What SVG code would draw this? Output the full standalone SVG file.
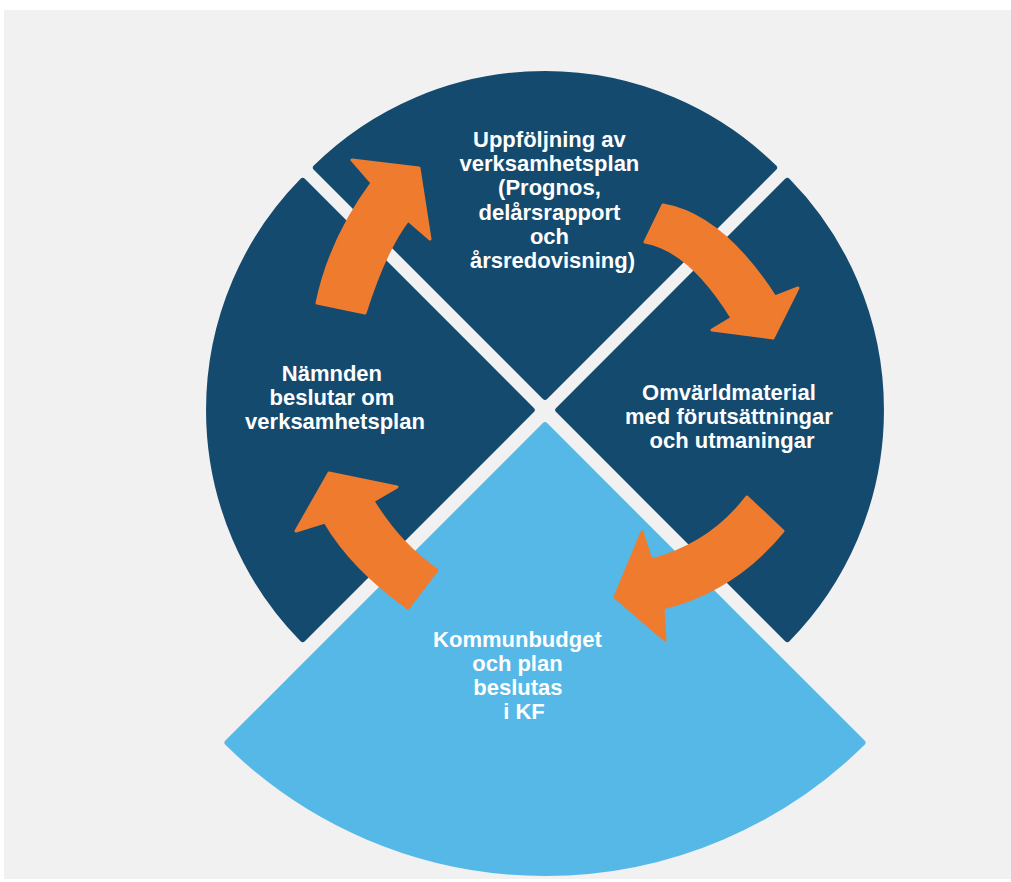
<svg xmlns="http://www.w3.org/2000/svg" width="1011" height="882" viewBox="0 0 1011 882">
  <style>
    .dark { fill: #154a6f; stroke: #154a6f; stroke-width: 6; stroke-linejoin: round; }
    .light { fill: #55b8e7; stroke: #55b8e7; stroke-width: 6; stroke-linejoin: round; }
    .arrow { fill: #ee7b2e; stroke: #ee7b2e; stroke-width: 3; stroke-linejoin: round; }
    .lbl { fill: #ffffff; font-family: "Liberation Sans", Arial, sans-serif; font-weight: bold; font-size: 22px; text-anchor: middle; }
  </style>
  <rect x="0" y="0" width="1011" height="882" fill="#ffffff"/>
  <rect x="4" y="10" width="1007" height="869" fill="#f1f1f1"/>

  <g id="node-top">
    <path class="dark" d="M 545,396.76 L 315.9,167.7 A 327 327 0 0 1 774.1,167.7 Z"/>
    <text class="lbl" x="552.5">
      <tspan x="552.5" y="147">Uppföljning av</tspan>
      <tspan x="552.5" y="171.2">verksamhetsplan</tspan>
      <tspan x="552.5" y="195.4">(Prognos,</tspan>
      <tspan x="552.5" y="219.6">delårsrapport</tspan>
      <tspan x="552.5" y="243.8">och</tspan>
      <tspan x="552.5" y="268">årsredovisning)</tspan>
    </text>
  </g>

  <g id="node-right">
    <path class="dark" d="M 558.24,410 L 787.3,180.9 A 327 327 0 0 1 787.3,639.1 Z"/>
    <text class="lbl">
      <tspan x="732" y="400">Omvärldmaterial</tspan>
      <tspan x="732" y="424">med förutsättningar</tspan>
      <tspan x="732" y="448">och utmaningar</tspan>
    </text>
  </g>

  <g id="node-bottom">
    <path class="light" d="M 545,425.24 L 862.5,742.7 A 452 452 0 0 1 227.5,742.7 Z"/>
    <text class="lbl">
      <tspan x="520.5" y="647">Kommunbudget</tspan>
      <tspan x="520.5" y="671">och plan</tspan>
      <tspan x="521" y="695">beslutas</tspan>
      <tspan x="524" y="719">i KF</tspan>
    </text>
  </g>

  <g id="node-left">
    <path class="dark" d="M 531.76,410 L 302.7,639.1 A 327 327 0 0 1 302.7,180.9 Z"/>
    <text class="lbl">
      <tspan x="335" y="380.5">Nämnden</tspan>
      <tspan x="335" y="404.5">beslutar om</tspan>
      <tspan x="335" y="428.5">verksamhetsplan</tspan>
    </text>
  </g>

  <g id="connectors">
    <path class="arrow" d="M 317,303 Q 330,240 372,183 L 352,160 L 419,168 L 430,239 L 408,220 Q 385,250 365,313 Z"/>
    <path class="arrow" d="M 663,205 Q 722,215 775,297 L 798,288 L 773,338 L 712,330 L 732,318 Q 690,250 645,242 Z"/>
    <path class="arrow" d="M 747,497 L 783,531 Q 735,590 663,608 L 665,640 L 615,597 L 642,532 L 651,560 Q 710,545 747,497 Z"/>
    <path class="arrow" d="M 437,570 L 408,608 Q 352,568 325,522 L 296,531 L 329,473 L 397,487 L 373,501 Q 400,545 437,570 Z"/>
  </g>
</svg>
